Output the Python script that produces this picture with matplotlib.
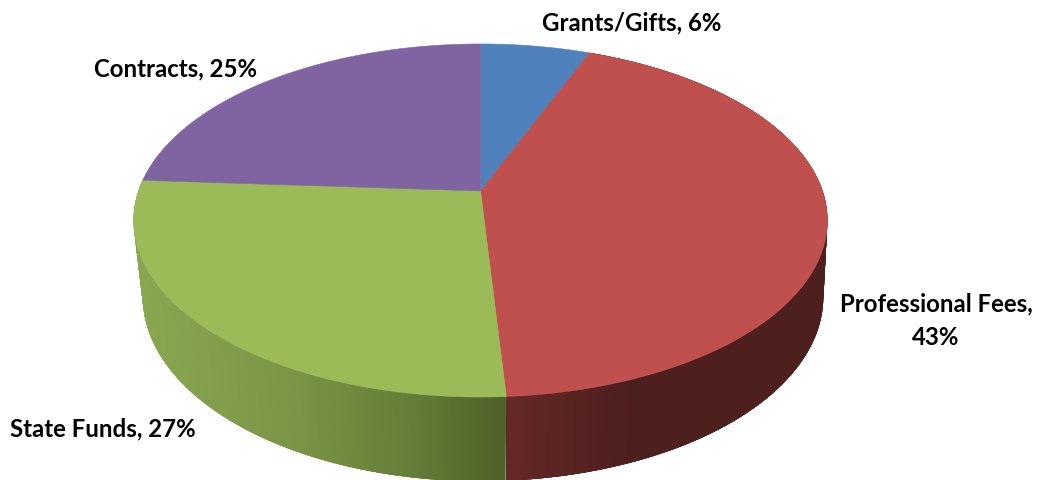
import matplotlib
matplotlib.use("Agg")
import matplotlib.pyplot as plt
from matplotlib.collections import PolyCollection
from matplotlib.patches import Polygon
import numpy as np

labels = ["Grants/Gifts, 6%", "Professional Fees,\n43%", "State Funds, 27%", "Contracts, 25%"]
shares = [6, 43, 27, 24]
colors = ["#4f81bd", "#c0504d", "#9bbb59", "#8064a2"]
label_pos = [(632, 23), (936, 321), (102.5, 429), (175.5, 69)]

# perspective of the disc, pixels of the image
cx, cy = 480.5, 191
k = 0.167
top_a, top_b = 342, 171.6
low_cy = 266
low_a = {1: 338, 2: 333}
low_b = 179.3


def project(theta, y0, a, b):
    # theta is clockwise from the back of the pie
    x = np.sin(theta)
    y = np.cos(theta)
    w = 1 + k * y
    return cx + a * x / w, y0 - b * y / w


def side_color(x, stops):
    xs = [s[0] for s in stops]
    return [np.interp(x, xs, [matplotlib.colors.to_rgb(s[1])[i] for s in stops]) for i in range(3)]


side_stops = {
    1: [(506, "#67292a"), (560, "#5b2523"), (640, "#4d1f1d"), (830, "#4d1f1d")],
    2: [(130, "#8aa851"), (300, "#7a9545"), (420, "#647d39"), (506, "#4f6228")],
}

fig = plt.figure(figsize=(10.49, 4.8), dpi=100)
ax = fig.add_axes([0, 0, 1, 1])
ax.set_xlim(0, 1049)
ax.set_ylim(480, 0)
ax.axis("off")

edges = np.cumsum([0] + shares) / 100 * 2 * np.pi

# side wall first, the top covers what is behind it
for i in side_stops:
    t = np.arange(edges[i], edges[i + 1], np.radians(0.25))
    t = np.append(t, edges[i + 1])
    tx, ty = project(t, cy, top_a, top_b)
    bx, by = project(t, low_cy, low_a[i], low_b)
    n = len(t)
    quads = []
    face = []
    # strips overlap a little so no seams show between them
    for j in range(n - 2, -1, -1):
        e = min(j + 4, n - 1)
        quads.append([(tx[j], ty[j]), (tx[e], ty[e]), (bx[e], by[e]), (bx[j], by[j])])
        face.append(side_color((tx[j] + bx[j]) / 2, side_stops[i]))
    ax.add_collection(PolyCollection(quads, facecolors=face, edgecolors="none"))

for i in range(len(shares)):
    t = np.linspace(edges[i], edges[i + 1], 200)
    x, y = project(t, cy, top_a, top_b)
    pts = np.column_stack([np.append(cx, x), np.append(cy, y)])
    ax.add_patch(Polygon(pts, closed=True, facecolor=colors[i], edgecolor=colors[i], linewidth=0.4))

for name, pos in zip(labels, label_pos):
    ax.text(pos[0], pos[1], name, ha="center", va="center", fontsize=17.3, fontweight="bold",
            family="Lato", color="black", linespacing=1.55)

fig.savefig("out.png", dpi=100)
